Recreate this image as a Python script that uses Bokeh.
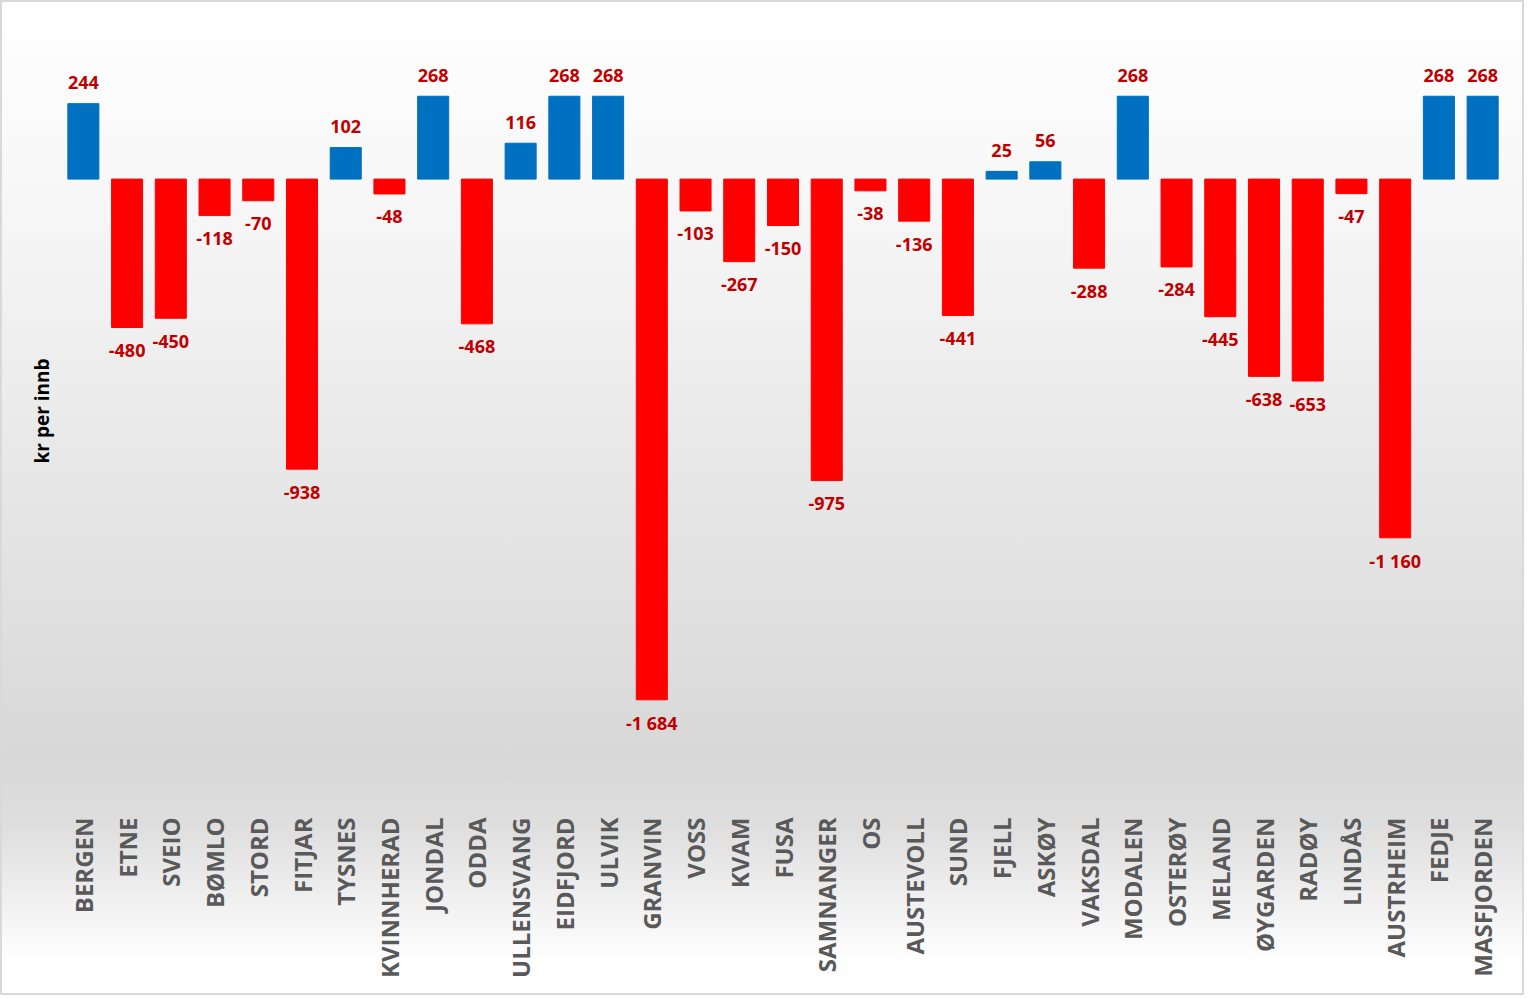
import math
from bokeh.plotting import figure
from bokeh.models import ColumnDataSource, Range1d, FactorRange, FixedTicker
from bokeh.embed import file_html
from bokeh.resources import INLINE
from bokeh.core.properties import value

categories = ["BERGEN", "ETNE", "SVEIO", "BØMLO", "STORD", "FITJAR", "TYSNES",
              "KVINNHERAD", "JONDAL", "ODDA", "ULLENSVANG", "EIDFJORD", "ULVIK",
              "GRANVIN", "VOSS", "KVAM", "FUSA", "SAMNANGER", "OS", "AUSTEVOLL",
              "SUND", "FJELL", "ASKØY", "VAKSDAL", "MODALEN", "OSTERØY", "MELAND",
              "ØYGARDEN", "RADØY", "LINDÅS", "AUSTRHEIM", "FEDJE", "MASFJORDEN"]
values = [244, -480, -450, -118, -70, -938, 102, -48, 268, -468, 116, 268, 268,
          -1684, -103, -267, -150, -975, -38, -136, -441, 25, 56, -288, 268,
          -284, -445, -638, -653, -47, -1160, 268, 268]

POS_COLOR = "#0070C0"
NEG_COLOR = "#FF0000"


def fmt(v):
    s = f"{abs(v):,}".replace(",", " ")
    return ("-" if v < 0 else "") + s


src = ColumnDataSource(dict(
    cat=categories,
    val=values,
    color=[POS_COLOR if v >= 0 else NEG_COLOR for v in values],
    label=[fmt(v) for v in values],
    yoff=[-21 if v >= 0 else 23 for v in values],
))

p = figure(x_range=FactorRange(*categories), y_range=Range1d(-2000, 500),
           width=1524, height=995, output_backend="svg", toolbar_location=None,
           min_border_left=59, min_border_right=22, min_border_top=22,
           min_border_bottom=200)

p.background_fill_color = None
p.border_fill_color = None
p.outline_line_color = None
p.styles = {
    "background": "linear-gradient(to bottom, #ffffff 0%, #f7f7f7 20%, #e6e6e6 50%, #d8d8d8 76%, #dedede 83%, #ffffff 97%)",
    "border": "2px solid #d9d9d9",
}

p.vbar(x="cat", top="val", bottom=0, width=0.71, color="color", source=src)

p.text(x="cat", y="val", text="label", y_offset="yoff", source=src,
       text_align="center", text_baseline="middle",
       text_font=value("Open Sans"), text_font_style="bold",
       text_font_size="18px", text_color="#C00000")

p.xgrid.visible = False
p.ygrid.visible = False

xa = p.xaxis[0]
xa.axis_line_color = None
xa.major_tick_line_color = None
xa.minor_tick_line_color = None
xa.major_tick_out = 0
xa.major_label_orientation = math.pi / 2
xa.major_label_standoff = 20
xa.major_label_text_font = "Open Sans"
xa.major_label_text_font_style = "bold"
xa.major_label_text_font_size = "24px"
xa.major_label_text_color = "#595959"

ya = p.yaxis[0]
ya.ticker = FixedTicker(ticks=[])
ya.axis_line_color = None
ya.major_tick_line_color = None
ya.minor_tick_line_color = None
ya.major_tick_out = 0
ya.major_label_standoff = 0
ya.axis_label = "kr per innb"
ya.axis_label_standoff = 7
ya.axis_label_text_font = "Open Sans"
ya.axis_label_text_font_style = "bold"
ya.axis_label_text_font_size = "19px"
ya.axis_label_text_color = "#000000"

open("out.html", "w").write(file_html(p, INLINE))
